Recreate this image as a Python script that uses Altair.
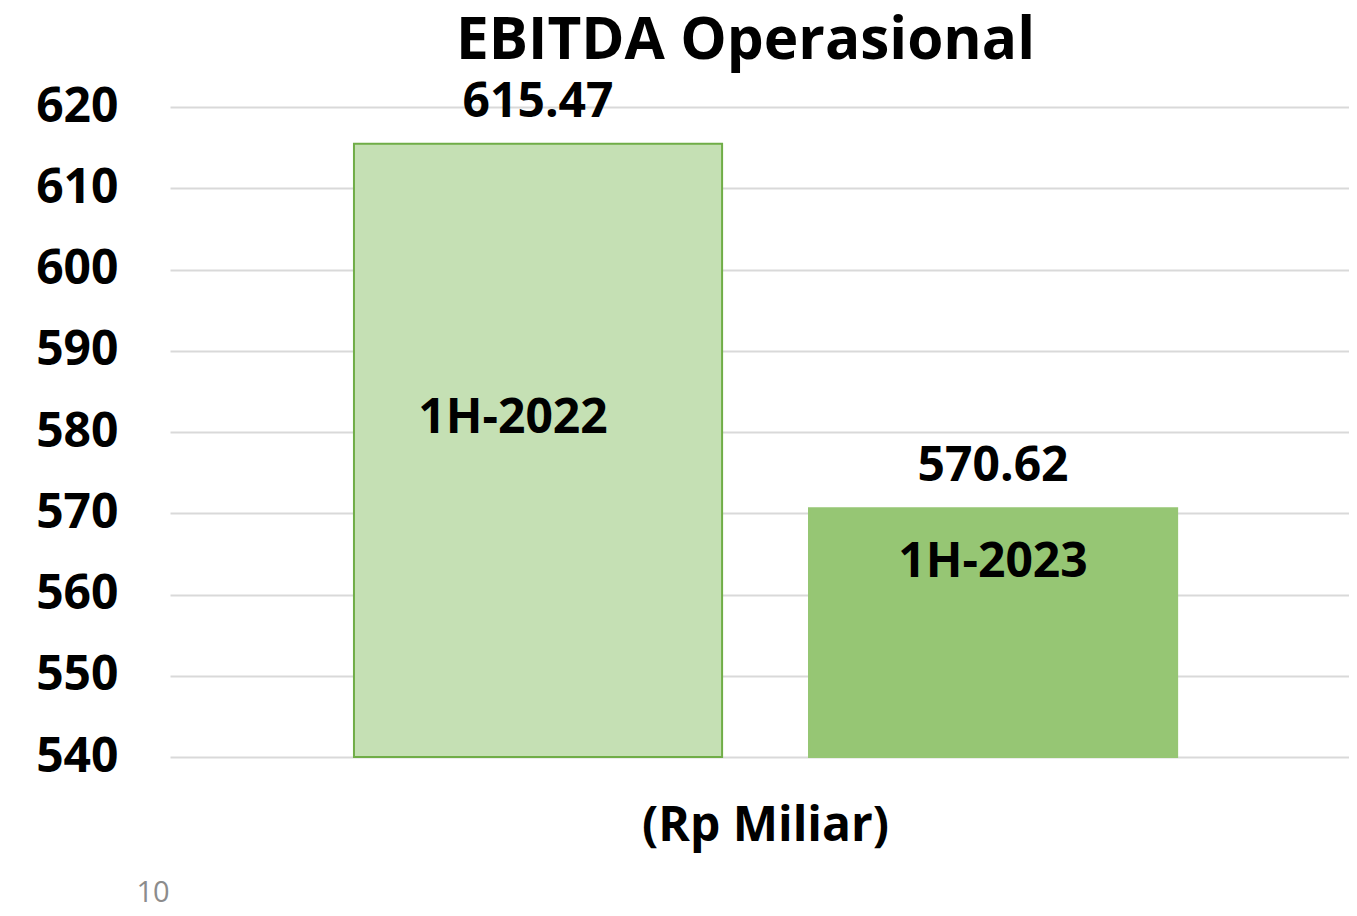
import altair as alt
import pandas as pd

categories = ["1H-2022", "1H-2023"]
values = [615.47, 570.62]
value_labels = ["615.47", "570.62"]
fills = ["#C5E0B4", "#96C674"]
strokes = ["#70AD47", "#96C674"]
y_ticks = [540, 550, 560, 570, 580, 590, 600, 610, 620]

df = pd.DataFrame({
    "cat": categories,
    "val": values,
    "lbl": value_labels,
    "fill": fills,
    "stroke": strokes,
})

FONT = "Open Sans"
FS = 48

x = alt.X("cat:N", sort=categories,
          scale=alt.Scale(paddingInner=0.191, paddingOuter=0.391, align=0.517),
          axis=alt.Axis(labels=False, ticks=False, domain=False, grid=False,
                        title="(Rp Miliar)", titleFont=FONT, titleFontSize=FS,
                        titleFontWeight="bold", titleColor="#000000",
                        titleBaseline="alphabetic", titlePadding=83,
                        titleX=595, titleAlign="center"))
y = alt.Y("val:Q",
          scale=alt.Scale(domain=[540, 620], nice=False, zero=False),
          axis=alt.Axis(values=y_ticks, title=None, domain=False, ticks=False,
                        labelFont=FONT, labelFontSize=FS, labelFontWeight="bold",
                        labelColor="#000000", labelPadding=52,
                        gridColor="#D9D9D9", gridWidth=2))

base = alt.Chart(df)

bars = base.mark_bar(strokeWidth=2).encode(
    x=x, y=y, y2=alt.datum(540),
    fill=alt.Fill("fill:N", scale=None),
    stroke=alt.Stroke("stroke:N", scale=None),
)

val_text = base.mark_text(font=FONT, fontSize=FS, fontWeight="bold",
                          baseline="alphabetic", dy=-27, color="#000000").encode(
    x=x, y=y, text="lbl:N")

cat1 = base.transform_filter(alt.datum.cat == categories[0]).mark_text(
    font=FONT, fontSize=FS, fontWeight="bold", baseline="alphabetic",
    dy=289, dx=-25, color="#000000").encode(x=x, y=y, text="cat:N")

cat2 = base.transform_filter(alt.datum.cat == categories[1]).mark_text(
    font=FONT, fontSize=FS, fontWeight="bold", baseline="alphabetic",
    dy=69, dx=0, color="#000000").encode(x=x, y=y, text="cat:N")

page_num = alt.Chart(pd.DataFrame({"t": ["10"]})).mark_text(
    font=FONT, fontSize=29, color="#8C8C8C", align="center", baseline="middle"
).encode(x=alt.value(-17), y=alt.value(786), text="t:N")

chart = alt.layer(bars, val_text, cat1, cat2, page_num).properties(
    width=1179, height=650,
    title=alt.TitleParams("EBITDA Operasional", font=FONT, fontSize=58.5,
                          fontWeight="bold", color="#000000", anchor="middle",
                          frame="group", baseline="alphabetic", offset=12,
                          dx=-14, dy=51),
    autosize=alt.AutoSizeParams(type="none"),
    padding={"left": 162, "top": 99, "right": 0, "bottom": 150},
).configure_view(stroke=None)

chart.save("out.html", embed_options={"renderer": "svg", "actions": False})
